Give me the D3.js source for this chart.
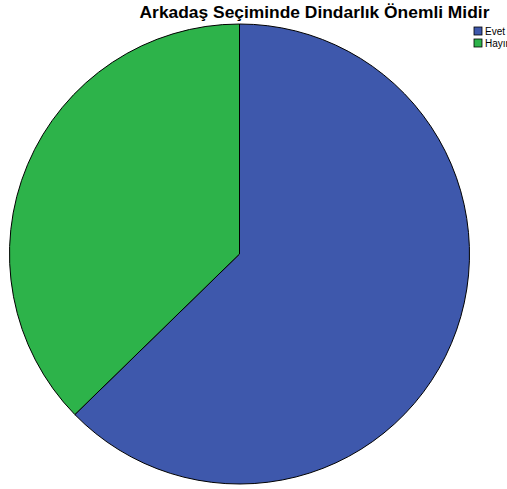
<!DOCTYPE html>
<html>
<head>
<meta charset="utf-8">
<script src="https://cdn.jsdelivr.net/npm/d3@7"></script>
<style>
  body { margin: 0; background: #fff; }
  svg { display: block; }
</style>
</head>
<body>
<div class="chart"></div>
<script>
var svgWidth = 507;
var svgHeight = 489;

// data (percent of answers)
var categories = ["Evet", "Hayır"];
var values = [62.7, 37.3];
var colors = ["#3e58ac", "#2db34a"];

var cx = 239.5, cy = 254, radius = 230;

var svg = d3.select(".chart")
  .append("svg")
  .attr("width", svgWidth)
  .attr("height", svgHeight);

svg.append("text")
  .attr("x", 314.5)
  .attr("y", 18)
  .attr("text-anchor", "middle")
  .style("font-family", "Liberation Sans, Arial, sans-serif")
  .style("font-weight", "bold")
  .style("font-size", "17.4px")
  .text("Arkadaş Seçiminde Dindarlık Önemli Midir");

var pie = d3.pie().sort(null).value(function(d) { return d; });
var arc = d3.arc().innerRadius(0).outerRadius(radius);

var g = svg.append("g").attr("transform", "translate(" + cx + "," + cy + ")");

g.selectAll("path")
  .data(pie(values))
  .enter()
  .append("path")
  .attr("d", arc)
  .attr("fill", function(d, i) { return colors[i]; })
  .attr("stroke", "#000")
  .attr("stroke-width", 1);

// legend (the reference cuts the second label at the right edge)
var legend = svg.append("g").attr("transform", "translate(474,27)");
var items = legend.selectAll("g")
  .data(categories)
  .enter()
  .append("g")
  .attr("transform", function(d, i) { return "translate(0," + (i * 12) + ")"; });

items.append("rect")
  .attr("width", 8)
  .attr("height", 8)
  .attr("fill", function(d, i) { return colors[i]; })
  .attr("stroke", "#000")
  .attr("stroke-width", 0.8);

items.append("text")
  .attr("x", 11)
  .attr("y", 8)
  .style("font-family", "Liberation Sans, Arial, sans-serif")
  .style("font-size", "10px")
  .text(function(d) { return d; });
</script>
</body>
</html>
